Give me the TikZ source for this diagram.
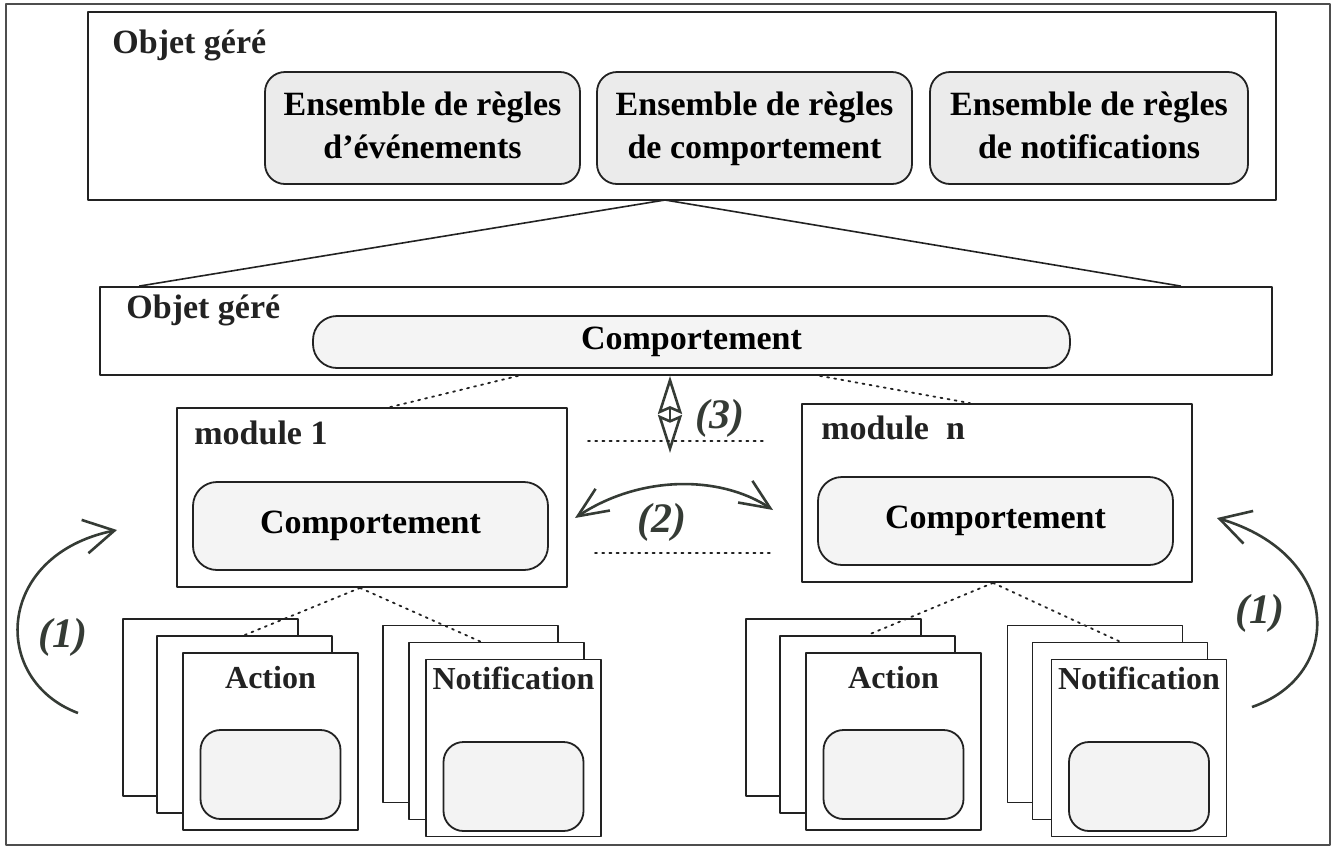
\documentclass[tikz,border=0pt]{standalone}
\usepackage{fontspec}
\setmainfont{Liberation Serif}
\usetikzlibrary{arrows.meta,calc}

\definecolor{gris}{HTML}{EBEBEB}
\definecolor{trait}{HTML}{222222}
\definecolor{fleche}{HTML}{353B35}

\newcommand\texte{\bfseries\fontsize{17}{21.5}\selectfont}
\newcommand\renvoi{\bfseries\itshape\fontsize{21}{24}\selectfont}

\tikzset{
  boite/.style 2 args={draw=trait, line width=0.9pt, minimum width=#1, minimum height=#2, inner sep=0pt},
  regle/.style 2 args={boite={#1}{#2}, rounded corners=10pt, fill=gris, align=center, font=\texte},
  feuille/.style={boite={87.5pt}{88.5pt}, fill=white},
  etiquette/.style={anchor=west, inner sep=0pt, font=\texte, text=trait},
  titre/.style={inner sep=0pt, font=\bfseries\fontsize{16}{19}\selectfont, text=trait},
  pointille/.style={draw=trait, line width=0.9pt, dash pattern=on 1pt off 2.6pt, line cap=round},
  zoomtrait/.style={draw=trait, line width=0.8pt},
  fleche1/.style={draw=fleche, line width=1.3pt, -{Straight Barb[length=15pt,width=17pt,line width=1.3pt]}},
  fleche2/.style={draw=fleche, line width=1.3pt, {Straight Barb[length=15pt,width=13pt,line width=1.3pt]}-{Straight Barb[length=15pt,width=13pt,line width=1.3pt]}},
  fleche3/.style={draw=fleche, line width=1.3pt, {Stealth[open,length=19pt,width=12pt,inset=2.5pt]}-{Stealth[open,length=19pt,width=12pt,inset=2.5pt]}},
  renvoi/.style={inner sep=0pt, font=\renvoi, text=fleche}
}

\begin{document}
\begin{tikzpicture}[x=0.5pt,y=-0.5pt,line join=round]
	\useasboundingbox (0,0) rectangle (1334,848);
	% cadre
	\draw[draw=trait!80, line width=0.8pt] (6,4) rectangle (1330,845);
	% objet géré avec ses règles
	\node[boite={594pt}{94pt}] (haut) at (682,106) {};
	\node[etiquette] (haut-t) at (112,45) {Objet géré};
	\node[regle={157.5pt}{56pt}] (evt) at (422.5,128) {Ensemble de règles\strut\\d’événements\strut};
	\node[regle={157.5pt}{56pt}] (cpt) at (754.5,128) {Ensemble de règles\strut\\de comportement\strut};
	\node[regle={159pt}{56pt}] (notif) at (1089,128) {Ensemble de règles\strut\\de notifications\strut};
	% objet géré avec son comportement
	\node[boite={586pt}{44pt}] (gere) at (686,331) {};
	\node[etiquette] (gere-t) at (126,310) {Objet géré};
	\node[regle={378.5pt}{26pt}, rounded corners=12pt, fill=gris!55] (comp) at (691.5,342) {Comportement};
	% agrandissement
	\coordinate (sommet) at (665,200);
	\draw[zoomtrait] (sommet) -- ([xshift=20pt]gere.north west);
	\draw[zoomtrait] (sommet) -- ([xshift=-46pt]gere.north east);
	% les modules
	\node[boite={195pt}{89.5pt}] (mod1) at (372,497.5) {};
	\node[etiquette] (mod1-t) at (194,433) {module 1};
	\node[regle={177.5pt}{44pt}, rounded corners=12pt, fill=gris!55] (comp1) at (370.5,526) {Comportement};
	\node[boite={195pt}{89pt}] (modn) at (997,493) {};
	\node[etiquette] (modn-t) at (821,428) {module\ \ n};
	\node[regle={177.5pt}{44pt}, rounded corners=12pt, fill=gris!55] (compn) at (995.5,521) {Comportement};
	\draw[pointille] ([xshift=-84pt]gere.south) -- ([xshift=9pt]mod1.north);
	\draw[pointille] ([xshift=67pt]gere.south) -- ([xshift=-13.5pt]modn.north);
	% piles d'actions et de notifications
	\foreach \nom/\x/\y/\dx/\ddx/\yc/\titre in {a1/270.5/741.5/26/60/774.5/Action,n1/513.5/748/17/43/786.5/Notification,a2/893.5/741.5/26/60/774.5/Action,n2/1139/748/19/44/786.5/Notification}{
		\node[feuille] (\nom-3) at (\x-\ddx,\y-34) {};
		\node[feuille] (\nom-2) at (\x-\dx,\y-17) {};
		\node[feuille] (\nom-1) at (\x,\y) {};
		\node[titre] (\nom-t) at (\x,678) {\titre};
		\node[regle={70pt}{44.5pt}, fill=gris!60] (\nom-c) at (\x,\yc) {};
	}
	\draw[pointille] ([xshift=-6pt]mod1.south) -- (a1-2.north);
	\draw[pointille] ([xshift=-6pt]mod1.south) -- ([xshift=-8pt]n1-2.north);
	\draw[pointille] ([xshift=-2pt]modn.south) -- (a2-2.north);
	\draw[pointille] ([xshift=-2pt]modn.south) -- (n2-2.north);
	% échanges
	\draw[fleche3] ([xshift=-8pt]gere.south) -- ++(0,77);
	\node[renvoi] (l3) at (720,418) {(3)};
	\draw[pointille] (588,441) -- (763,441);
	\coordinate (g2) at (575,518);
	\coordinate (d2) at (773,510);
	\draw[fleche2] (g2) .. controls (640,475) and (720,475) .. (d2);
	\node[renvoi] (l2) at (662,522) {(2)};
	\draw[pointille] (595,553) -- (772,553);
	% boucles (1)
	\coordinate (g1a) at (78,713);
	\coordinate (g1b) at (117,530);
	\draw[fleche1] (g1a) .. controls (-10,680) and (-5,555) .. (g1b);
	\node[renvoi] (l1g) at (63,637) {(1)};
	\coordinate (d1a) at (1252,707);
	\coordinate (d1b) at (1217,518);
	\draw[fleche1] (d1a) .. controls (1345,675) and (1342,555) .. (d1b);
	\node[renvoi] (l1d) at (1260,613) {(1)};
\end{tikzpicture}
\end{document}
